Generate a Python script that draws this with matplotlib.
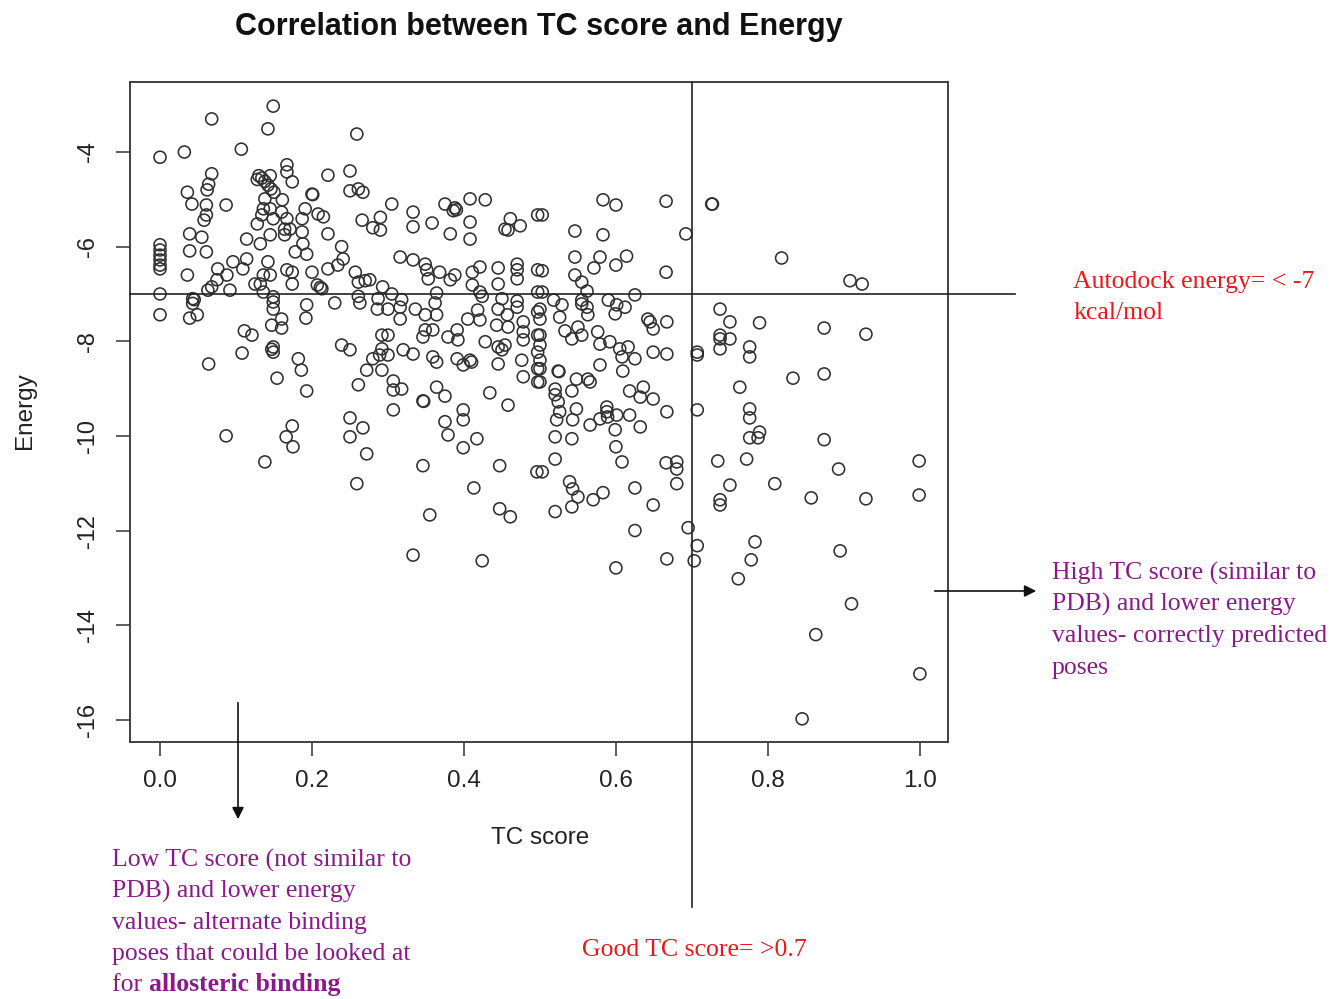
import matplotlib
matplotlib.use("Agg")
import matplotlib.pyplot as plt
from matplotlib.patches import FancyArrowPatch

# ---------------- data ----------------
tc_score = [
    0.149, 0.068, 0.142, 0.0, 0.032, 0.107, 0.167, 0.167, 0.174, 0.221, 0.068, 0.064, 0.062, 0.036, 0.042,
    0.061, 0.087, 0.061, 0.058, 0.130, 0.134, 0.138, 0.142, 0.146, 0.145, 0.150, 0.128, 0.200, 0.201,
    0.161, 0.138, 0.136, 0.145, 0.160, 0.128, 0.134, 0.149, 0.167, 0.164, 0.171, 0.191, 0.187, 0.208,
    0.215, 0.221, 0.187, 0.188, 0.178, 0.193, 0.164, 0.145, 0.132, 0.114, 0.039, 0.055, 0.039, 0.061,
    0.0, 0.0, 0.0, 0.0, 0.0, 0.0, 0.036, 0.076, 0.088, 0.075, 0.068, 0.063, 0.096, 0.114, 0.109, 0.142,
    0.136, 0.145, 0.125, 0.132, 0.167, 0.174, 0.174, 0.200, 0.221, 0.207, 0.211, 0.213, 0.092, 0.136,
    0.0, 0.043, 0.045, 0.149,
    0.259, 0.250, 0.250, 0.261, 0.267, 0.305, 0.333, 0.333, 0.358, 0.266, 0.280, 0.290, 0.290, 0.239,
    0.241, 0.234, 0.375, 0.388, 0.390, 0.386, 0.408, 0.428, 0.408, 0.382, 0.408, 0.461, 0.454, 0.458,
    0.474, 0.497, 0.316, 0.333, 0.349, 0.351, 0.353, 0.368, 0.382, 0.388, 0.411, 0.421, 0.445, 0.470,
    0.470, 0.470, 0.497, 0.257, 0.261, 0.270, 0.276, 0.293, 0.445, 0.411,
    0.261, 0.287, 0.305, 0.318, 0.364, 0.421, 0.424, 0.450, 0.470, 0.497,
    0.503, 0.546, 0.583, 0.583, 0.600, 0.666, 0.726, 0.727, 0.692, 0.503, 0.546, 0.579, 0.571, 0.600,
    0.614, 0.666, 0.546, 0.555, 0.562, 0.503, 0.625, 0.518, 0.555, 0.590,
    0.818, 0.908, 0.924,
    0.0, 0.039, 0.049, 0.043, 0.111, 0.121, 0.108, 0.064, 0.149, 0.149, 0.147, 0.160, 0.160, 0.149,
    0.149, 0.147, 0.193, 0.192, 0.182, 0.186, 0.154, 0.193, 0.087, 0.174, 0.166, 0.175, 0.138,
    0.230, 0.263, 0.286, 0.300, 0.316, 0.336, 0.349, 0.362, 0.364, 0.418, 0.421, 0.445, 0.457, 0.470,
    0.478, 0.497, 0.316, 0.349, 0.346, 0.359, 0.379, 0.391, 0.392, 0.405, 0.443, 0.458, 0.428, 0.445,
    0.454, 0.450, 0.478, 0.478, 0.497, 0.497, 0.497, 0.497, 0.292, 0.300, 0.239, 0.250, 0.292, 0.289,
    0.280, 0.300, 0.320, 0.333, 0.272, 0.292, 0.359, 0.364, 0.391, 0.399, 0.408, 0.410, 0.445, 0.476,
    0.478, 0.261, 0.307, 0.307, 0.318, 0.364, 0.375, 0.346, 0.347, 0.434, 0.458, 0.307, 0.250, 0.267,
    0.250, 0.375, 0.399, 0.399, 0.379, 0.417, 0.399, 0.272, 0.346, 0.447, 0.496, 0.259, 0.413, 0.355,
    0.447, 0.461,
    0.500, 0.500, 0.500, 0.500, 0.500, 0.500, 0.500, 0.529, 0.526, 0.562, 0.563, 0.555, 0.599, 0.612,
    0.601, 0.642, 0.649, 0.645, 0.667, 0.533, 0.542, 0.550, 0.555, 0.576, 0.579, 0.592, 0.605, 0.616,
    0.608, 0.625, 0.649, 0.667, 0.579, 0.609, 0.524, 0.525, 0.548, 0.563, 0.566, 0.520, 0.542, 0.520,
    0.524, 0.618, 0.636, 0.632, 0.649, 0.667, 0.526, 0.522, 0.548, 0.543, 0.566, 0.579, 0.588, 0.588,
    0.589, 0.601, 0.618, 0.632, 0.599, 0.520, 0.542, 0.600, 0.520, 0.608, 0.503, 0.666, 0.680, 0.680,
    0.680, 0.539, 0.543, 0.550, 0.542, 0.570, 0.583, 0.625, 0.649, 0.520,
    0.707, 0.707, 0.707, 0.737, 0.750, 0.737, 0.737, 0.737, 0.750, 0.763, 0.734, 0.750, 0.737, 0.737,
    0.789, 0.874, 0.929, 0.776, 0.776, 0.833, 0.874, 0.776, 0.776, 0.776, 0.787, 0.789, 0.874, 0.772,
    0.893, 0.999, 0.809, 0.857, 0.929, 0.999,
    0.333, 0.424, 0.625, 0.695, 0.707, 0.703, 0.667, 0.600, 0.783, 0.778, 0.761, 0.895, 0.910, 0.863,
    1.000, 0.845,
]

energy = [
    -3.03, -3.30, -3.51, -4.11, -4.00, -3.94, -4.27, -4.42, -4.63, -4.49, -4.46, -4.68, -4.80, -4.85, -5.10,
    -5.12, -5.12, -5.33, -5.44, -4.50, -4.55, -4.62, -4.70, -4.78, -4.50, -4.85, -4.58, -4.89, -4.90,
    -5.01, -4.99, -5.20, -5.20, -5.27, -5.52, -5.33, -5.41, -5.41, -5.63, -5.63, -5.20, -5.41, -5.31,
    -5.37, -5.73, -5.69, -5.94, -6.11, -6.16, -5.75, -5.75, -5.94, -5.84, -5.73, -5.80, -6.09, -6.11,
    -5.96, -6.07, -6.18, -6.28, -6.39, -6.47, -6.60, -6.47, -6.60, -6.70, -6.85, -6.92, -6.32, -6.26, -6.47, -6.32,
    -6.60, -6.60, -6.79, -6.79, -6.49, -6.54, -6.79, -6.54, -6.47, -6.81, -6.86, -6.89, -6.92, -6.96,
    -7.00, -7.10, -7.12, -7.06,
    -3.62, -4.40, -4.82, -4.78, -4.85, -5.10, -5.27, -5.58, -5.50, -5.44, -5.60, -5.65, -5.38, -6.00,
    -6.26, -6.39, -5.10, -5.18, -5.22, -5.24, -4.99, -5.01, -5.48, -5.73, -5.84, -5.41, -5.63, -5.65,
    -5.56, -5.33, -6.22, -6.28, -6.37, -6.49, -6.68, -6.54, -6.70, -6.60, -6.54, -6.43, -6.45, -6.37,
    -6.49, -6.68, -6.49, -6.54, -6.75, -6.72, -6.70, -6.85, -6.79, -6.81,
    -7.05, -7.10, -7.00, -7.12, -6.98, -6.96, -7.05, -7.10, -7.15, -6.96,
    -5.33, -5.67, -5.75, -5.01, -5.12, -5.04, -5.10, -5.10, -5.73, -6.51, -6.22, -6.22, -6.45, -6.39,
    -6.20, -6.54, -6.60, -6.75, -6.94, -6.96, -7.02, -7.13, -7.13, -7.13,
    -6.24, -6.72, -6.79,
    -7.44, -7.51, -7.44, -7.20, -7.78, -7.87, -8.25, -8.48, -7.32, -7.17, -7.66, -7.53, -7.72, -8.12,
    -8.23, -8.17, -7.23, -7.51, -8.37, -8.61, -8.78, -9.05, -10.00, -9.79, -10.02, -10.23, -10.55,
    -7.19, -7.19, -7.32, -7.32, -7.28, -7.32, -7.44, -7.19, -7.44, -7.34, -7.55, -7.32, -7.44, -7.28,
    -7.59, -7.38, -7.53, -7.76, -7.91, -7.76, -7.91, -7.76, -7.97, -7.53, -7.66, -7.70, -8.01, -8.12,
    -8.08, -8.18, -7.80, -7.97, -7.87, -8.23, -8.58, -8.86, -7.87, -7.87, -8.08, -8.18, -8.16, -8.29,
    -8.37, -8.29, -8.18, -8.27, -8.61, -8.61, -8.33, -8.44, -8.37, -8.50, -8.40, -8.44, -8.48, -8.40,
    -8.75, -8.92, -8.84, -9.03, -9.01, -8.97, -9.16, -9.26, -9.27, -9.09, -9.35, -9.45, -9.62, -9.83,
    -10.02, -9.70, -9.45, -9.66, -9.98, -10.06, -10.25, -10.38, -10.63, -10.63, -10.76, -11.01, -11.10, -11.67,
    -11.54, -11.71,
    -7.32, -7.53, -7.87, -8.08, -8.40, -8.58, -8.86, -7.23, -7.49, -7.28, -7.44, -7.21, -7.42, -7.28,
    -7.23, -7.53, -7.74, -7.59, -7.59, -7.78, -7.95, -7.70, -7.87, -7.80, -8.06, -8.01, -8.16, -8.12,
    -8.33, -8.37, -8.23, -8.27, -8.50, -8.63, -8.63, -8.64, -8.80, -8.80, -8.86, -9.01, -9.05, -9.13,
    -9.28, -9.05, -8.97, -9.18, -9.22, -9.49, -9.49, -9.66, -9.43, -9.66, -9.77, -9.64, -9.39, -9.49,
    -9.60, -9.56, -9.56, -9.81, -9.87, -10.02, -10.06, -10.23, -10.49, -10.55, -10.76, -10.57, -10.55, -10.70,
    -11.01, -10.97, -11.12, -11.29, -11.50, -11.35, -11.20, -11.10, -11.46, -11.60,
    -8.29, -8.23, -9.45, -7.32, -7.59, -7.87, -7.95, -8.16, -7.95, -8.97, -10.53, -11.04, -11.35, -11.46,
    -7.61, -7.72, -7.85, -8.12, -8.33, -8.78, -8.69, -9.43, -9.62, -10.04, -10.04, -9.92, -10.08, -10.49,
    -10.70, -10.53, -11.01, -11.31, -11.33, -11.25,
    -12.52, -12.64, -12.00, -11.94, -12.32, -12.64, -12.60, -12.79, -12.24, -12.62, -13.02, -12.43, -13.55, -14.20,
    -15.03, -15.98,
]

x_ticks = [0.0, 0.2, 0.4, 0.6, 0.8, 1.0]
x_tick_labels = ["0.0", "0.2", "0.4", "0.6", "0.8", "1.0"]
y_ticks = [-4, -6, -8, -10, -12, -14, -16]
y_tick_labels = ["-4", "-6", "-8", "-10", "-12", "-14", "-16"]

energy_cutoff = -7
tc_cutoff = 0.7

title = "Correlation between TC score and Energy"
x_label = "TC score"
y_label = "Energy"
energy_note = ["Autodock energy= < -7", "kcal/mol"]
tc_note = "Good TC score= >0.7"
high_note = ["High TC score (similar to", "PDB) and lower energy",
             "values- correctly predicted", "poses"]
low_note = ["Low TC score (not similar to", "PDB) and lower energy",
            "values- alternate binding", "poses that could be looked at"]
low_last_plain = "for "
low_last_bold = "allosteric binding"

# ---------------- figure ----------------
W, H = 1337, 999
fig = plt.figure(figsize=(W / 100, H / 100), dpi=100)
fig.patch.set_facecolor("white")

def fx(px):
    return px / W

def fy(py):
    return 1 - py / H

ax = fig.add_axes([fx(130), fy(742), fx(948) - fx(130), fy(82) - fy(742)])
ax.scatter(tc_score, energy, s=75, facecolors="none", edgecolors="#303030", linewidths=1.15, zorder=3)

ax.set_xlim(-0.0395, 1.037)
ax.set_ylim(-16.47, -2.52)

sans = "Liberation Sans"
serif = "Liberation Serif"

ax.set_xticks(x_ticks)
ax.set_xticklabels(x_tick_labels, fontsize=17.5, family=sans, color="#222222")
ax.set_yticks(y_ticks)
ax.set_yticklabels(y_tick_labels, fontsize=17, family=sans, color="#222222",
                   rotation=90, va="center")
ax.tick_params(axis="both", direction="out", length=10, width=1.1, color="#333333")
ax.tick_params(axis="x", pad=10)
ax.tick_params(axis="y", pad=12)
for sp in ax.spines.values():
    sp.set_linewidth(1.3)
    sp.set_color("#333333")

# reference lines, extending outside the axes
ax.plot([-0.0395, 1.125], [energy_cutoff, energy_cutoff], color="#222222", lw=1.2,
        clip_on=False, zorder=4)
ax.plot([tc_cutoff, tc_cutoff], [-2.52, -19.95], color="#222222", lw=1.2,
        clip_on=False, zorder=4)

fig.text(fx(539), fy(27), title, fontsize=22, fontweight="bold", family=sans,
         ha="center", va="center", color="#111111")
fig.text(fx(540), fy(838), x_label, fontsize=17.5, family=sans, ha="center", va="center",
         color="#222222")
fig.text(fx(25), fy(411), y_label, fontsize=17.5, family=sans, ha="center", va="center",
         rotation=90, color="#222222")

red = "#e8191c"
purple = "#8a1a8a"
note_size = 18.5

for i, line in enumerate(energy_note):
    fig.text(fx(1073), fy(282 + 31 * i), line, fontsize=note_size, family=serif,
             color=red, ha="left", va="center")

fig.text(fx(582), fy(950), tc_note, fontsize=note_size, family=serif, color=red,
         ha="left", va="center")

for i, line in enumerate(high_note):
    fig.text(fx(1052), fy(573 + 31.7 * i), line, fontsize=note_size, family=serif,
             color=purple, ha="left", va="center")

for i, line in enumerate(low_note):
    fig.text(fx(112), fy(860 + 31.3 * i), line, fontsize=note_size, family=serif,
             color=purple, ha="left", va="center")
fig.text(fx(112), fy(985), low_last_plain, fontsize=note_size, family=serif,
         color=purple, ha="left", va="center")
fig.text(fx(149), fy(985), low_last_bold, fontsize=note_size, family=serif,
         fontweight="bold", color=purple, ha="left", va="center")

# arrows
arr1 = FancyArrowPatch((fx(238), fy(700)), (fx(238), fy(822)), transform=fig.transFigure,
                       arrowstyle="-|>,head_length=7,head_width=3.5", color="#111111", lw=1.2)
arr2 = FancyArrowPatch((fx(932), fy(591)), (fx(1039), fy(591)), transform=fig.transFigure,
                       arrowstyle="-|>,head_length=7,head_width=3.5", color="#111111", lw=1.2)
fig.add_artist(arr1)
fig.add_artist(arr2)

fig.savefig("out.png", dpi=100, facecolor="white")
